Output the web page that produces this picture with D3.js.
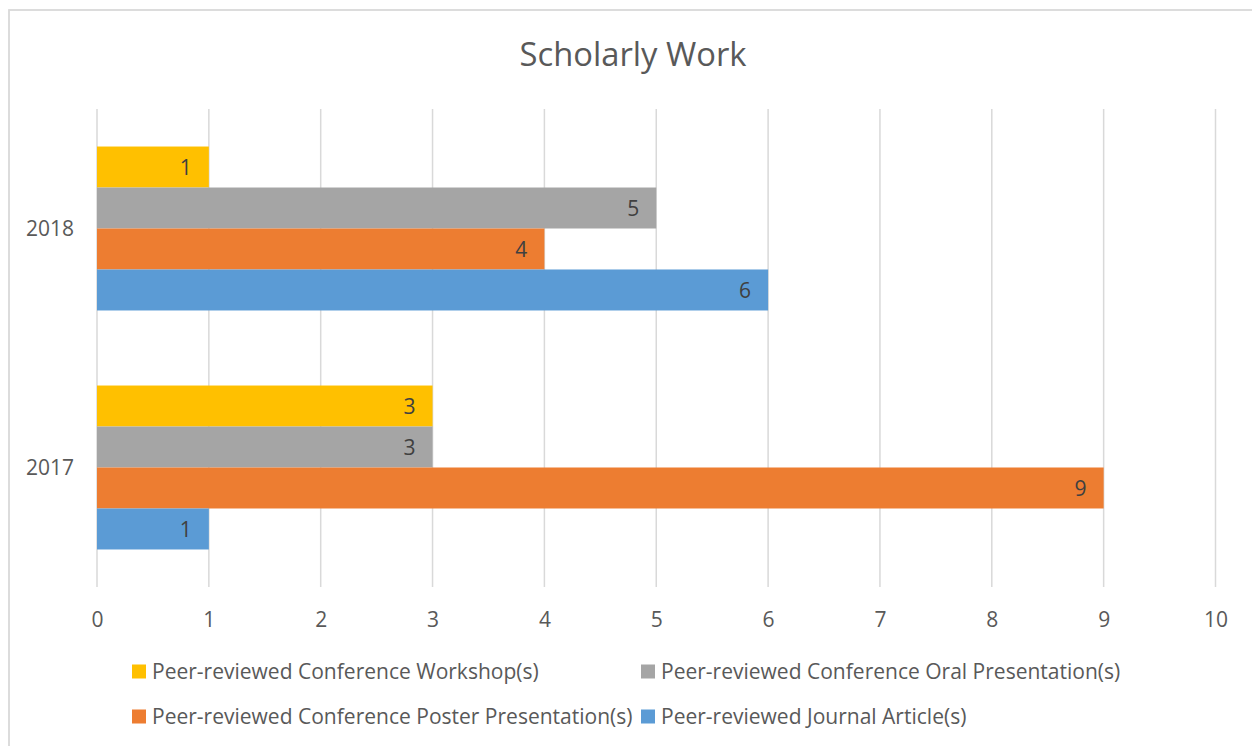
<!DOCTYPE html>
<html><head><meta charset="utf-8">
<script src="https://cdn.jsdelivr.net/npm/d3@7"></script>
<style>html,body{margin:0;padding:0;background:#fff;overflow:hidden}</style>
</head><body>
<svg id="chart" width="1252" height="746"></svg>
<script>
const categories = ["2018", "2017"];
const seriesNames = [
  "Peer-reviewed Conference Workshop(s)",
  "Peer-reviewed Conference Oral Presentation(s)",
  "Peer-reviewed Conference Poster Presentation(s)",
  "Peer-reviewed Journal Article(s)"
];
const workshop = [1, 3];
const oral = [5, 3];
const poster = [4, 9];
const journal = [6, 1];
const xTicks = [0, 1, 2, 3, 4, 5, 6, 7, 8, 9, 10];
const colors = ["#FFC000", "#A5A5A5", "#ED7D31", "#5B9BD5"];
const titleText = "Scholarly Work";

const seriesValues = [workshop, oral, poster, journal];
const FONT = "'Open Sans', sans-serif";
const svg = d3.select("#chart");

function fitSize(str, target, weight) {
  const t = svg.append("text").attr("font-family", FONT).attr("font-size", 100).text(str);
  const w = t.node().getComputedTextLength();
  t.remove();
  return 100 * target / w;
}
const baseSize = fitSize(seriesNames[0], 387);
const titleSize = fitSize(titleText, 227);

// border
svg.append("rect").attr("x", 9).attr("y", 10).attr("width", 1300).attr("height", 800)
  .attr("fill", "none").attr("stroke", "#d9d9d9").attr("stroke-width", 1.8);

const plot = {left: 97, right: 1215.5, top: 109, bottom: 587};
const x = d3.scaleLinear().domain([0, 10]).range([plot.left, plot.right]);
const y = d3.scaleBand().domain(categories).range([plot.top, plot.bottom])
  .paddingInner(0.314).paddingOuter(0.157);
const ySub = d3.scaleBand().domain(d3.range(seriesNames.length)).range([0, y.bandwidth()]);

// title
svg.append("text").attr("x", 633).attr("y", 66).attr("text-anchor", "middle")
  .attr("font-family", FONT).attr("font-size", titleSize).attr("fill", "#595959").text(titleText);

// gridlines
svg.append("g").selectAll("line").data(xTicks).join("line")
  .attr("x1", d => x(d)).attr("x2", d => x(d))
  .attr("y1", plot.top).attr("y2", plot.bottom)
  .attr("stroke", "#d9d9d9").attr("stroke-width", 1.5);

// x axis labels
const xAxis = d3.axisBottom(x).tickValues(xTicks).tickSize(0).tickPadding(0).tickFormat(d3.format("d"));
const gx = svg.append("g").attr("transform", `translate(0,${plot.bottom})`).call(xAxis);
gx.select(".domain").remove();
gx.selectAll("text").attr("font-family", FONT).attr("font-size", baseSize)
  .attr("fill", "#595959").attr("dy", null).attr("y", 40);

// y axis labels
const yAxis = d3.axisLeft(y).tickSize(0).tickPadding(0);
const gy = svg.append("g").attr("transform", `translate(74,0)`).call(yAxis);
gy.select(".domain").remove();
gy.selectAll("text").attr("font-family", FONT).attr("font-size", baseSize)
  .attr("fill", "#595959").attr("dy", "0.35em").attr("x", 0);

// bars
const rows = [];
categories.forEach((c, ci) => seriesValues.forEach((vals, si) => rows.push({c, si, v: vals[ci]})));
const gb = svg.append("g");
gb.selectAll("rect").data(rows).join("rect")
  .attr("x", x(0)).attr("y", d => y(d.c) + ySub(d.si))
  .attr("width", d => x(d.v) - x(0)).attr("height", ySub.bandwidth())
  .attr("fill", d => colors[d.si]);
gb.selectAll("text").data(rows).join("text")
  .attr("x", d => x(d.v) - 17).attr("y", d => y(d.c) + ySub(d.si) + ySub.bandwidth() / 2)
  .attr("dy", "0.36em").attr("text-anchor", "end")
  .attr("font-family", FONT).attr("font-size", baseSize).attr("fill", "#404040")
  .text(d => d.v);

// legend
const legX = [132, 641], legY = [671.5, 716.5];
const gl = svg.append("g");
seriesNames.forEach((name, i) => {
  const lx = legX[i % 2], ly = legY[Math.floor(i / 2)];
  gl.append("rect").attr("x", lx).attr("y", ly - 7).attr("width", 14).attr("height", 14).attr("fill", colors[i]);
  gl.append("text").attr("x", lx + 20).attr("y", ly).attr("dy", "0.36em")
    .attr("font-family", FONT).attr("font-size", baseSize).attr("fill", "#595959").text(name);
});
</script>
</body></html>
